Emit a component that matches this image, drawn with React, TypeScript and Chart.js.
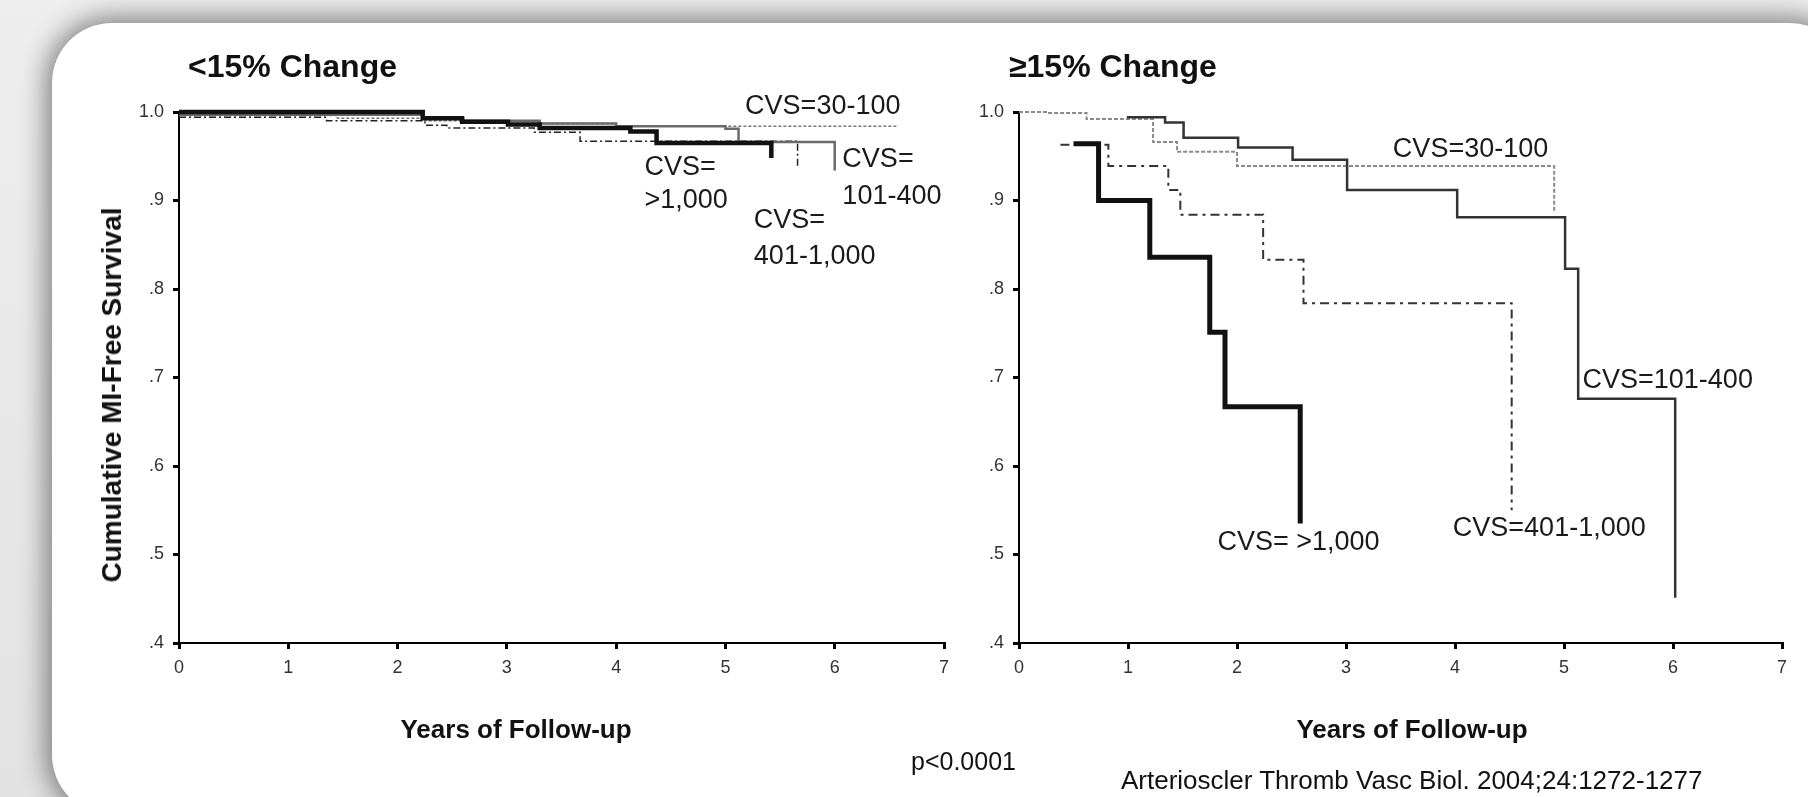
import React, { useEffect, useRef } from "react";
import { Chart, registerables } from "chart.js";

Chart.register(...registerables);

const FONT = '"Liberation Sans", Arial, Helvetica, sans-serif';

// ---------- shared axis ticks ----------
const xTickValues = [0, 1, 2, 3, 4, 5, 6, 7];
const xTickLabels = ["0", "1", "2", "3", "4", "5", "6", "7"];
const yTickValues = [0.4, 0.5, 0.6, 0.7, 0.8, 0.9, 1.0];
const yTickLabels = [".4", ".5", ".6", ".7", ".8", ".9", "1.0"];

// ---------- left panel: <15% Change ----------
const leftOver1000Years = [0, 2.23, 2.59, 3.01, 3.3, 4.13, 4.37, 5.42];
const leftOver1000Surv = [1.0, 0.993, 0.989, 0.986, 0.982, 0.978, 0.965, 0.948];
const left101to400Years = [0, 2.23, 2.6, 3.3, 4.0, 5.0, 5.12, 6.0];
const left101to400Surv = [0.997, 0.993, 0.99, 0.987, 0.984, 0.981, 0.966, 0.934];
const left401to1000Years = [0, 1.35, 2.25, 2.45, 3.25, 3.67, 5.66];
const left401to1000Surv = [0.994, 0.99, 0.985, 0.982, 0.977, 0.967, 0.937];
const left30to100Years = [0, 1.45, 2.25, 3.0, 4.0, 6.58];
const left30to100Surv = [0.996, 0.993, 0.99, 0.987, 0.984, 0.984];

const leftLabelTexts = ["CVS=30-100", "CVS=", ">1,000", "CVS=", "101-400", "CVS=", "401-1,000"];
const leftLabelYears = [5.18, 4.26, 4.26, 6.07, 6.07, 5.26, 5.26];
const leftLabelSurv = [1.006, 0.937, 0.9, 0.946, 0.904, 0.877, 0.837];

// ---------- right panel: >=15% Change ----------
const rightOver1000Years = [0.5, 0.73, 1.2, 1.75, 1.89, 2.58];
const rightOver1000Surv = [0.964, 0.9, 0.836, 0.751, 0.667, 0.535];
const right101to400Years = [0.99, 1.34, 1.51, 2.01, 2.51, 3.01, 4.02, 5.01, 5.13, 6.02];
const right101to400Surv = [0.994, 0.988, 0.971, 0.96, 0.946, 0.912, 0.881, 0.823, 0.676, 0.451];
const right401to1000Years = [0.38, 0.82, 1.37, 1.48, 2.24, 2.61, 4.52];
const right401to1000Surv = [0.963, 0.939, 0.912, 0.884, 0.833, 0.784, 0.55];
const right30to100Years = [0, 0.26, 0.62, 1.23, 1.45, 2.0, 4.91];
const right30to100Surv = [1.0, 0.999, 0.992, 0.966, 0.955, 0.939, 0.886];

const rightLabelTexts = ["CVS=30-100", "CVS=101-400", "CVS=401-1,000", "CVS= >1,000"];
const rightLabelYears = [3.43, 5.17, 3.98, 1.82];
const rightLabelSurv = [0.958, 0.697, 0.529, 0.514];

type Series = {
  name: string;
  t: number[];
  s: number[];
  color: string;
  width: number;
  dash: number[];
};

const leftSeries: Series[] = [
  { name: "CVS >1,000", t: leftOver1000Years, s: leftOver1000Surv, color: "#111", width: 4.5, dash: [] },
  { name: "CVS 101-400", t: left101to400Years, s: left101to400Surv, color: "#6a6a6a", width: 2.5, dash: [] },
  { name: "CVS 401-1,000", t: left401to1000Years, s: left401to1000Surv, color: "#222", width: 1.5, dash: [7, 3, 2, 3] },
  { name: "CVS 30-100", t: left30to100Years, s: left30to100Surv, color: "#777", width: 1.5, dash: [3, 2] },
];

const rightSeries: Series[] = [
  { name: "CVS >1,000", t: rightOver1000Years, s: rightOver1000Surv, color: "#111", width: 5, dash: [] },
  { name: "CVS 101-400", t: right101to400Years, s: right101to400Surv, color: "#333", width: 2.5, dash: [] },
  { name: "CVS 401-1,000", t: right401to1000Years, s: right401to1000Surv, color: "#333", width: 2, dash: [9, 5, 3, 5] },
  { name: "CVS 30-100", t: right30to100Years, s: right30to100Surv, color: "#8a8a8a", width: 2, dash: [4, 2] },
];

function labelPlugin(texts: string[], xs: number[], ys: number[]) {
  return {
    id: "curveLabels",
    afterDatasetsDraw(chart: any) {
      const ctx = chart.ctx;
      const xs_ = chart.scales.x;
      const ys_ = chart.scales.y;
      ctx.save();
      ctx.font = `27px ${FONT}`;
      ctx.fillStyle = "#1a1a1a";
      ctx.textAlign = "left";
      ctx.textBaseline = "middle";
      texts.forEach((t, i) => {
        ctx.fillText(t, xs_.getPixelForValue(xs[i]), ys_.getPixelForValue(ys[i]));
      });
      ctx.restore();
    },
  };
}

function makeChart(
  canvas: HTMLCanvasElement,
  series: Series[],
  yWidth: number,
  padRight: number,
  labels: [string[], number[], number[]]
) {
  return new Chart(canvas, {
    type: "line",
    data: {
      datasets: series.map((s) => ({
        label: s.name,
        data: s.t.map((t, i) => ({ x: t, y: s.s[i] })),
        borderColor: s.color,
        borderWidth: s.width,
        borderDash: s.dash,
        stepped: "before" as const,
        pointRadius: 0,
        fill: false,
        clip: false as any,
        borderCapStyle: "butt" as const,
        borderJoinStyle: "miter" as const,
      })),
    },
    options: {
      responsive: false,
      animation: false,
      layout: { padding: { left: 0, top: 112, right: padRight, bottom: 0 } },
      plugins: {
        legend: { display: false },
        tooltip: { enabled: false },
        title: { display: false },
      },
      scales: {
        x: {
          type: "linear",
          min: 0,
          max: 7,
          afterBuildTicks: (scale: any) => {
            scale.ticks = xTickValues.map((v) => ({ value: v }));
          },
          ticks: {
            color: "#333",
            font: { size: 18, family: FONT },
            padding: 8,
            maxRotation: 0,
            callback: (v: any) => {
              const i = xTickValues.indexOf(Number(v));
              return i >= 0 ? xTickLabels[i] : "";
            },
          },
          grid: {
            display: true,
            drawOnChartArea: false,
            drawTicks: true,
            tickLength: 6,
            color: "#000",
            lineWidth: 3,
          },
          border: { display: true, color: "#000", width: 2 },
          afterFit: (scale: any) => {
            scale.height = 154;
          },
        },
        y: {
          type: "linear",
          min: 0.4,
          max: 1.0,
          afterBuildTicks: (scale: any) => {
            scale.ticks = yTickValues.map((v) => ({ value: v }));
          },
          ticks: {
            color: "#333",
            font: { size: 18, family: FONT },
            padding: 9,
            callback: (v: any) => {
              const i = yTickValues.findIndex((t) => Math.abs(t - Number(v)) < 1e-6);
              return i >= 0 ? yTickLabels[i] : "";
            },
          },
          grid: {
            display: true,
            drawOnChartArea: false,
            drawTicks: true,
            tickLength: 6,
            color: "#000",
            lineWidth: 3,
          },
          border: { display: true, color: "#000", width: 2 },
          afterFit: (scale: any) => {
            scale.width = yWidth;
          },
        },
      },
    } as any,
    plugins: [labelPlugin(labels[0], labels[1], labels[2])],
  });
}

const abs = (style: React.CSSProperties): React.CSSProperties => ({
  position: "absolute",
  whiteSpace: "nowrap",
  fontFamily: FONT,
  color: "#111",
  lineHeight: 1,
  margin: 0,
  ...style,
});

export default function App() {
  const leftRef = useRef<HTMLCanvasElement>(null);
  const rightRef = useRef<HTMLCanvasElement>(null);

  useEffect(() => {
    const c1 = makeChart(leftRef.current!, leftSeries, 179, 16, [leftLabelTexts, leftLabelYears, leftLabelSurv]);
    const c2 = makeChart(rightRef.current!, rightSeries, 59, 26, [rightLabelTexts, rightLabelYears, rightLabelSurv]);
    return () => {
      c1.destroy();
      c2.destroy();
    };
  }, []);

  return (
    <div
      style={{
        position: "absolute",
        left: 0,
        top: 0,
        width: 1808,
        height: 797,
        overflow: "hidden",
        background: "linear-gradient(#eeeeee, #e2e2e2)",
      }}
    >
      <div
        style={{
          position: "absolute",
          left: 52,
          top: 23,
          width: 1850 - 52,
          height: 815 - 23,
          background: "#fff",
          borderRadius: 60,
          boxShadow: "0 0 26px 6px rgba(0,0,0,0.45)",
        }}
      />
      <canvas
        ref={leftRef}
        width={960}
        height={797}
        style={{ position: "absolute", left: 0, top: 0, width: 960, height: 797 }}
      />
      <canvas
        ref={rightRef}
        width={848}
        height={797}
        style={{ position: "absolute", left: 960, top: 0, width: 848, height: 797 }}
      />
      <div style={abs({ left: 188, top: 50, fontSize: 32, fontWeight: "bold" })}>&lt;15% Change</div>
      <div style={abs({ left: 1009, top: 50, fontSize: 32, fontWeight: "bold" })}>≥15% Change</div>
      <div
        style={abs({
          left: 112,
          top: 395,
          fontSize: 28,
          fontWeight: "bold",
          transform: "translate(-50%, -50%) rotate(-90deg)",
        })}
      >
        Cumulative MI-Free Survival
      </div>
      <div style={abs({ left: 516, top: 729, fontSize: 26, fontWeight: "bold", transform: "translate(-50%, -50%)" })}>
        Years of Follow-up
      </div>
      <div style={abs({ left: 1412, top: 729, fontSize: 26, fontWeight: "bold", transform: "translate(-50%, -50%)" })}>
        Years of Follow-up
      </div>
      <div style={abs({ left: 911, top: 761, fontSize: 25, transform: "translateY(-50%)" })}>p&lt;0.0001</div>
      <div style={abs({ left: 1121, top: 780, fontSize: 26, transform: "translateY(-50%)" })}>
        Arterioscler Thromb Vasc Biol. 2004;24:1272-1277
      </div>
    </div>
  );
}
